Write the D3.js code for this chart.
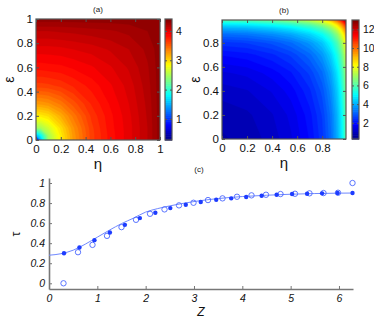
<!DOCTYPE html>
<html>
<head>
<meta charset="utf-8">
<script src="https://cdn.jsdelivr.net/npm/d3@7"></script>
<style>
  body { margin: 0; background: #fff; }
  svg { display: block; font-family: "Liberation Sans", Arial, sans-serif; }
</style>
</head>
<body>
<div id="chart"></div>
<script>
// panel (a): grid nodes (eta / epsilon) and values
const aNodes = [0, 0.04, 0.1, 0.2, 0.3, 0.45, 0.6, 0.75, 0.9, 1.0];
const aValues = [
  [0.30, 1.60, 2.50, 2.95, 3.30, 3.68, 3.88, 4.03, 4.20, 4.38],
  [1.60, 1.90, 2.54, 2.97, 3.31, 3.68, 3.88, 4.03, 4.20, 4.38],
  [2.50, 2.54, 2.71, 3.03, 3.34, 3.69, 3.89, 4.03, 4.20, 4.38],
  [2.95, 2.97, 3.03, 3.23, 3.45, 3.73, 3.90, 4.04, 4.21, 4.38],
  [3.30, 3.31, 3.34, 3.45, 3.60, 3.79, 3.93, 4.06, 4.22, 4.38],
  [3.68, 3.68, 3.69, 3.73, 3.79, 3.88, 3.98, 4.09, 4.24, 4.38],
  [3.88, 3.88, 3.89, 3.90, 3.93, 3.98, 4.05, 4.14, 4.26, 4.38],
  [4.03, 4.03, 4.03, 4.04, 4.06, 4.09, 4.14, 4.20, 4.29, 4.38],
  [4.20, 4.20, 4.20, 4.21, 4.22, 4.24, 4.26, 4.29, 4.34, 4.38],
  [4.38, 4.38, 4.38, 4.38, 4.38, 4.38, 4.38, 4.38, 4.38, 4.38]
];
const aRange = [0.28, 4.41];
const aBarTicks = [1, 2, 3, 4];

// panel (b)
const bNodes = [0, 0.2, 0.4, 0.55, 0.7, 0.8, 0.87, 0.92, 0.95, 0.97, 0.99];
const bValues = [
  [0.90, 1.00, 1.25, 1.55, 2.05, 2.60, 3.30, 4.10, 4.80, 5.40, 6.20],
  [1.00, 1.10, 1.35, 1.65, 2.16, 2.71, 3.41, 4.22, 4.92, 5.52, 6.33],
  [1.25, 1.35, 1.61, 1.91, 2.42, 2.98, 3.70, 4.51, 5.22, 5.84, 6.65],
  [1.55, 1.65, 1.91, 2.22, 2.74, 3.31, 4.03, 4.86, 5.59, 6.21, 7.04],
  [2.05, 2.16, 2.42, 2.74, 3.27, 3.86, 4.60, 5.45, 6.19, 6.83, 7.68],
  [2.60, 2.71, 2.98, 3.31, 3.86, 4.46, 5.22, 6.09, 6.86, 7.51, 8.39],
  [3.30, 3.41, 3.70, 4.03, 4.60, 5.22, 6.01, 6.91, 7.71, 8.38, 9.29],
  [4.10, 4.22, 4.51, 4.86, 5.45, 6.09, 6.91, 7.85, 8.67, 9.38, 10.32],
  [4.80, 4.92, 5.22, 5.59, 6.19, 6.86, 7.71, 8.67, 9.52, 10.25, 11.22],
  [5.40, 5.52, 5.84, 6.21, 6.83, 7.51, 8.38, 9.38, 10.25, 10.99, 11.99],
  [6.20, 6.33, 6.65, 7.04, 7.68, 8.39, 9.29, 10.32, 11.22, 11.99, 13.02]
];
const bRange = [0.27, 13.0];
const bBarTicks = [2, 4, 6, 8, 10, 12];

const heatTicksA = [0, 0.2, 0.4, 0.6, 0.8, 1];
const heatTicksB = [0, 0.2, 0.4, 0.6, 0.8];

// panel (c)
const zFilled = [0.31, 0.63, 0.94, 1.26, 1.57, 1.88, 2.20, 2.51, 2.83, 3.14, 3.46, 3.77, 4.08, 4.40, 4.71, 5.03, 5.34, 5.65, 5.97, 6.28];
const tauFilled = [0.30, 0.357, 0.43, 0.507, 0.583, 0.65, 0.703, 0.75, 0.783, 0.81, 0.833, 0.847, 0.86, 0.873, 0.883, 0.89, 0.893, 0.897, 0.90, 0.90];
const zOpen = [0.30, 0.60, 0.90, 1.20, 1.50, 1.80, 2.09, 2.39, 2.69, 2.99, 3.29, 3.59, 3.89, 4.19, 4.49, 4.79, 5.09, 5.39, 5.68, 5.98, 6.28];
const tauOpen = [0.0, 0.31, 0.383, 0.473, 0.56, 0.633, 0.693, 0.737, 0.777, 0.803, 0.83, 0.847, 0.863, 0.877, 0.883, 0.89, 0.893, 0.897, 0.90, 0.903, 1.0];
const zLine = [0, 0.25, 0.5, 0.75, 1, 1.25, 1.5, 1.75, 2, 2.25, 2.5, 2.75, 3, 3.5, 4, 4.5, 5, 5.5, 6, 6.28];
const tauLine = [0.28, 0.295, 0.33, 0.39, 0.46, 0.53, 0.595, 0.65, 0.71, 0.745, 0.772, 0.795, 0.815, 0.845, 0.865, 0.878, 0.888, 0.895, 0.899, 0.90];
const zTicks = [0, 1, 2, 3, 4, 5, 6];
const tauTicks = [0, 0.2, 0.4, 0.6, 0.8, 1];

const W = 374, H = 325;
const axisColor = '#555';

// matlab jet colormap
function jet(t) {
    t = Math.max(0, Math.min(1, t));
    const c = v => Math.round(255 * Math.max(0, Math.min(1, v)));
    return `rgb(${c(1.5 - Math.abs(4 * t - 3))},${c(1.5 - Math.abs(4 * t - 2))},${c(1.5 - Math.abs(4 * t - 1))})`;
}

const svg = d3.select('#chart').append('svg')
    .attr('width', W)
    .attr('height', H);

svg.append('rect').attr('width', W).attr('height', H).attr('fill', '#fff');

const fmt = d3.format('~g');

function styleAxis(sel) {
    sel.select('.domain').remove();
    sel.selectAll('line').attr('stroke', axisColor);
    sel.selectAll('text').attr('fill', '#111');
}

function heatPanel(cfg) {
    const { nodes, values, range, barTicks, xTicks, yTicks, left, top, w, h, step, barX, label, id } = cfg;
    const dom = [0, nodes[nodes.length - 1]];
    const x = d3.scaleLinear().domain(dom).range([left, left + w]);
    const y = d3.scaleLinear().domain(dom).range([top + h, top]);
    const n = nodes.length;
    const idx = d3.scaleLinear().domain(d3.range(n)).range(nodes).clamp(true);
    const color = v => jet((v - range[0]) / (range[1] - range[0]));

    const g = svg.append('g');
    g.append('clipPath').attr('id', id)
        .append('rect').attr('x', left).attr('y', top).attr('width', w).attr('height', h);

    const flat = values.flat();
    const thresholds = d3.range(range[0], range[1], step);
    const contours = d3.contours().size([n, n]).thresholds(thresholds)(flat);

    const proj = d3.geoTransform({
        point: function(px, py) {
            this.stream.point(x(idx(px - 0.5)), y(idx(py - 0.5)));
        }
    });
    const path = d3.geoPath(proj);

    const body = g.append('g').attr('clip-path', `url(#${id})`);
    body.append('rect')
        .attr('x', left).attr('y', top).attr('width', w).attr('height', h)
        .attr('fill', color(d3.min(flat)));
    body.selectAll('path')
        .data(contours)
        .enter().append('path')
        .attr('d', path)
        .attr('fill', d => color(d.value))
        .attr('stroke', d => color(d.value))
        .attr('stroke-width', 0.3);

    // axes, ticks on all four sides pointing inwards
    const xb = g.append('g').attr('transform', `translate(0,${top + h})`)
        .call(d3.axisBottom(x).tickValues(xTicks).tickFormat(fmt).tickSize(-3).tickPadding(3))
        .style('font-size', '11.5px');
    const yl = g.append('g').attr('transform', `translate(${left},0)`)
        .call(d3.axisLeft(y).tickValues(yTicks).tickFormat(fmt).tickSize(-3).tickPadding(3))
        .style('font-size', '11.5px');
    const xt = g.append('g').attr('transform', `translate(0,${top})`)
        .call(d3.axisTop(x).tickValues(xTicks).tickFormat('').tickSize(-3));
    const yr = g.append('g').attr('transform', `translate(${left + w},0)`)
        .call(d3.axisRight(y).tickValues(yTicks).tickFormat('').tickSize(-3));
    [xb, yl, xt, yr].forEach(styleAxis);
    xb.selectAll('text').attr('dy', '0.85em');

    g.append('rect')
        .attr('x', left).attr('y', top).attr('width', w).attr('height', h)
        .attr('fill', 'none').attr('stroke', axisColor).attr('stroke-width', 1.2);

    // colorbar
    const cb = d3.scaleLinear().domain(range).range([top + h, top]);
    const steps = d3.range(64);
    const cbW = 7;
    g.selectAll('rect.cb')
        .data(steps)
        .enter().append('rect')
        .attr('class', 'cb')
        .attr('x', barX)
        .attr('y', i => cb(range[0] + (i + 1) * (range[1] - range[0]) / 64))
        .attr('width', cbW)
        .attr('height', (h / 64) + 0.6)
        .attr('fill', i => jet((i + 0.5) / 64));
    const cbr = g.append('g').attr('transform', `translate(${barX + cbW},0)`)
        .call(d3.axisRight(cb).tickValues(barTicks).tickFormat(fmt).tickSize(-2).tickPadding(4))
        .style('font-size', '10.5px');
    const cbl = g.append('g').attr('transform', `translate(${barX},0)`)
        .call(d3.axisLeft(cb).tickValues(barTicks).tickFormat('').tickSize(-2));
    [cbr, cbl].forEach(styleAxis);
    g.append('rect')
        .attr('x', barX).attr('y', top).attr('width', cbW).attr('height', h)
        .attr('fill', 'none').attr('stroke', axisColor).attr('stroke-width', 1.2);

    // labels
    g.append('text')
        .attr('x', left + w / 2).attr('y', top - 7)
        .attr('text-anchor', 'middle')
        .style('font-size', '8px').attr('fill', '#222')
        .text(label);
    g.append('text')
        .attr('x', left + w / 2).attr('y', top + h + 29)
        .attr('text-anchor', 'middle')
        .style('font-size', '15px').attr('fill', '#111')
        .text('η');
    g.append('text')
        .attr('transform', `translate(${left - 22},${top + h / 2}) rotate(-90)`)
        .attr('text-anchor', 'middle')
        .style('font-size', '14px').attr('fill', '#111')
        .text('ε');
}

heatPanel({
    id: 'clipA', nodes: aNodes, values: aValues, range: aRange, barTicks: aBarTicks,
    xTicks: heatTicksA, yTicks: heatTicksA,
    left: 36, top: 19, w: 124, h: 121, step: 0.07, barX: 165, label: '(a)'
});

heatPanel({
    id: 'clipB', nodes: bNodes, values: bValues, range: bRange, barTicks: bBarTicks,
    xTicks: heatTicksB, yTicks: heatTicksB,
    left: 222, top: 20, w: 124, h: 119, step: 0.22, barX: 352, label: '(b)'
});

// panel (c)
const cx = d3.scaleLinear().domain([0, 6.29]).range([49, 353]);
const cy = d3.scaleLinear().domain([-0.057, 1.05]).range([289, 178]);
const gc = svg.append('g');

const xa = gc.append('g').attr('transform', 'translate(0,289)')
    .call(d3.axisBottom(cx).tickValues(zTicks).tickFormat(fmt).tickSize(-3).tickPadding(4).tickSizeOuter(0))
    .style('font-size', '10.5px');
const ya = gc.append('g').attr('transform', 'translate(49,0)')
    .call(d3.axisLeft(cy).tickValues(tauTicks).tickFormat(fmt).tickSize(-3).tickPadding(4).tickSizeOuter(0))
    .style('font-size', '10.5px');
[xa, ya].forEach(a => {
    a.select('.domain').attr('stroke', '#777').attr('stroke-width', 1.6);
    a.selectAll('line').attr('stroke', '#777');
    a.selectAll('text').attr('fill', '#111').style('font-style', 'italic');
});
xa.selectAll('text').attr('dy', '0.9em');

const lineData = zLine.map((z, i) => [z, tauLine[i]]);
gc.append('path')
    .datum(lineData)
    .attr('d', d3.line().x(d => cx(d[0])).y(d => cy(d[1])).curve(d3.curveMonotoneX))
    .attr('fill', 'none')
    .attr('stroke', '#6f88ff')
    .attr('stroke-width', 1);

gc.selectAll('circle.open')
    .data(zOpen.map((z, i) => [z, tauOpen[i]]))
    .enter().append('circle')
    .attr('class', 'open')
    .attr('cx', d => cx(d[0])).attr('cy', d => cy(d[1]))
    .attr('r', 2.7)
    .attr('fill', 'none')
    .attr('stroke', '#4a66ff')
    .attr('stroke-width', 0.9);

gc.selectAll('circle.filled')
    .data(zFilled.map((z, i) => [z, tauFilled[i]]))
    .enter().append('circle')
    .attr('class', 'filled')
    .attr('cx', d => cx(d[0])).attr('cy', d => cy(d[1]))
    .attr('r', 2.2)
    .attr('fill', '#1d3cff');

gc.append('text')
    .attr('x', 199).attr('y', 172)
    .attr('text-anchor', 'middle')
    .style('font-size', '8px').attr('fill', '#222')
    .text('(c)');
gc.append('text')
    .attr('x', 201).attr('y', 316)
    .attr('text-anchor', 'middle')
    .style('font-size', '12px').style('font-style', 'italic').attr('fill', '#111')
    .text('Z');
gc.append('text')
    .attr('transform', 'translate(20,234) rotate(-90)')
    .attr('text-anchor', 'middle')
    .style('font-size', '12px').attr('fill', '#111')
    .text('τ');
</script>
</body>
</html>
